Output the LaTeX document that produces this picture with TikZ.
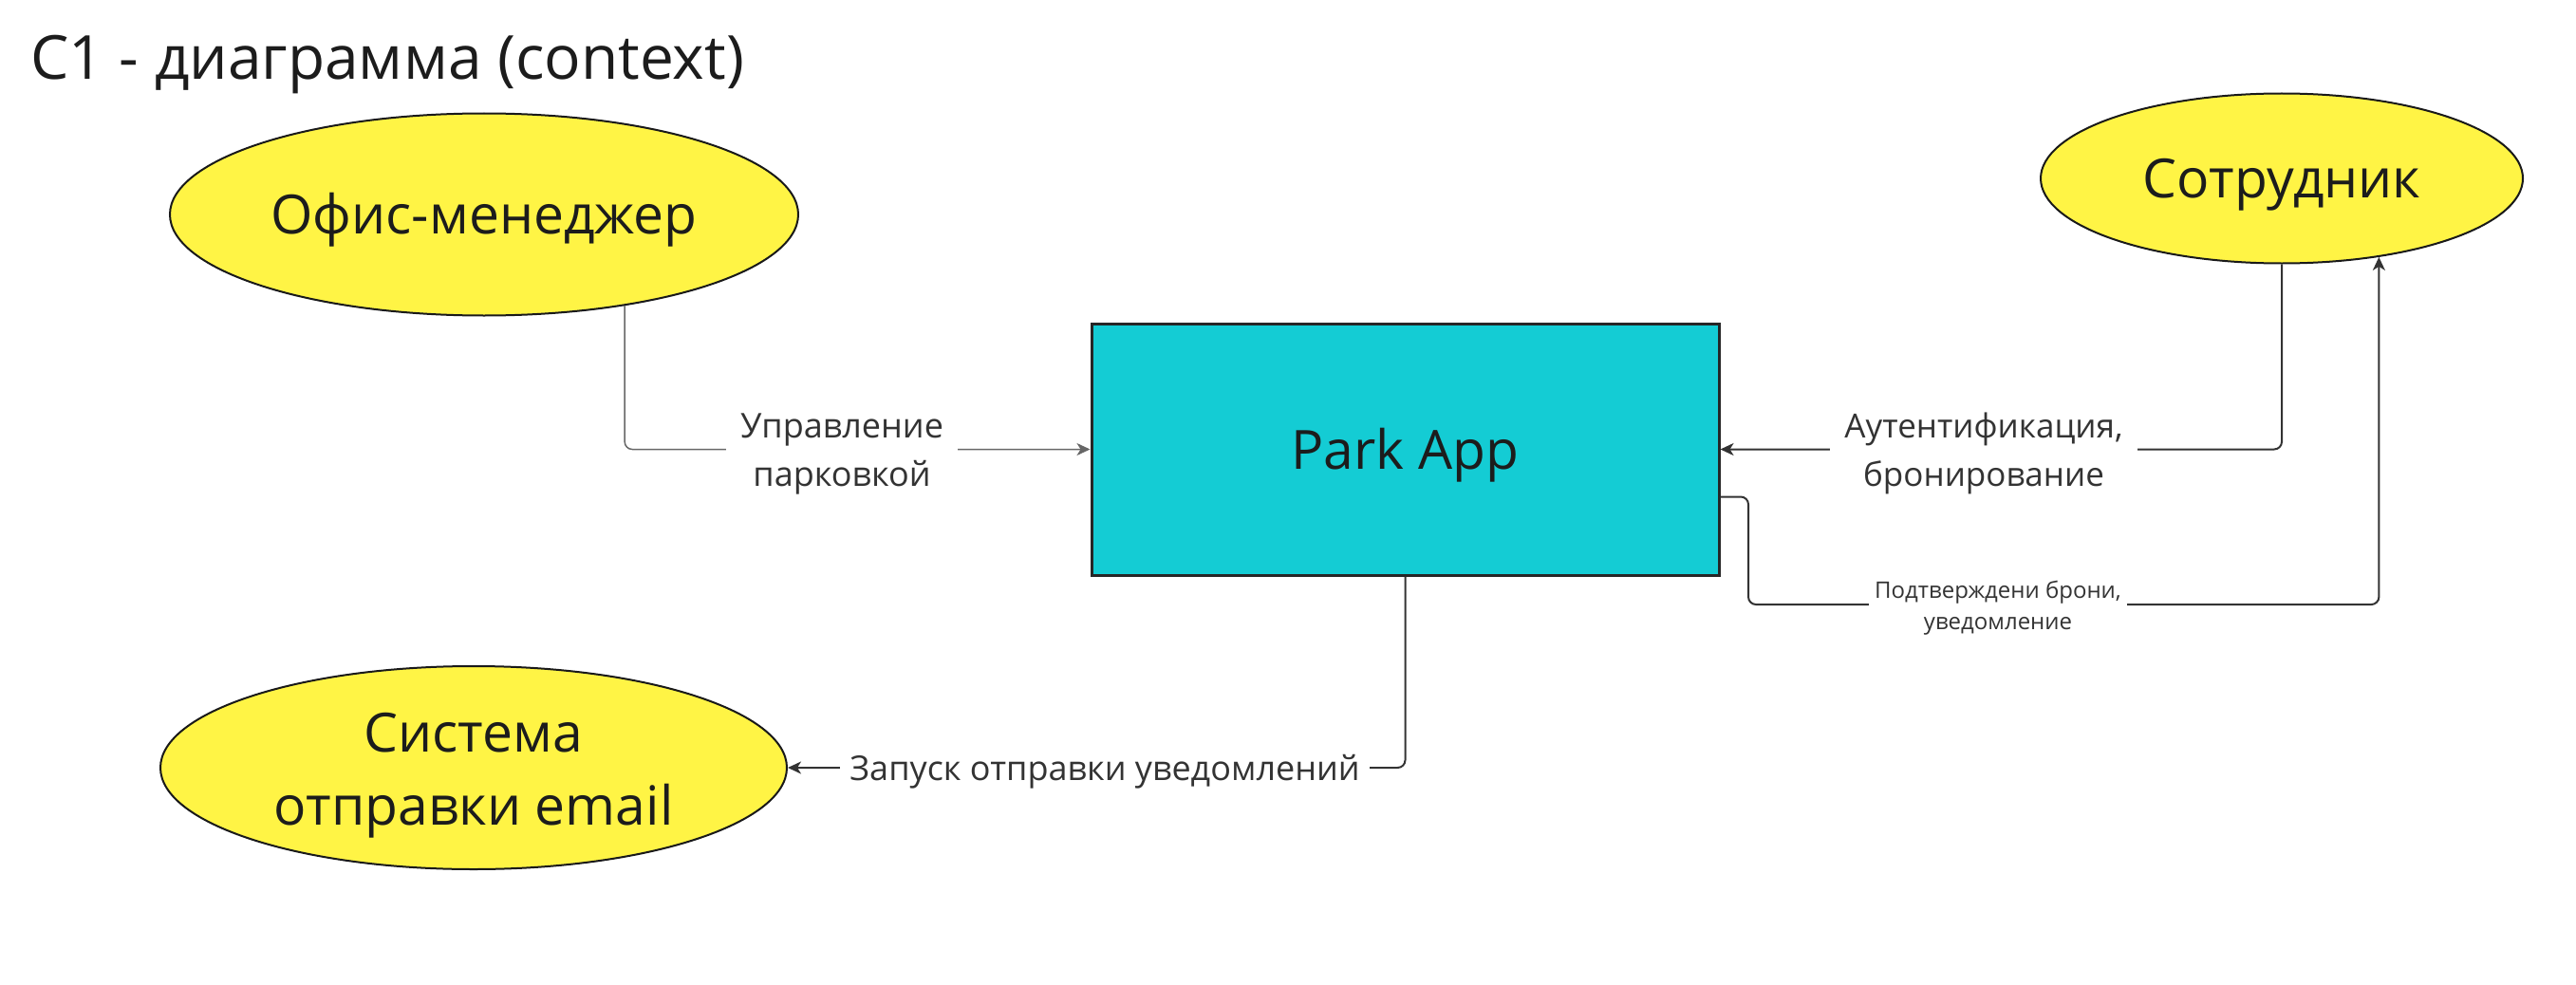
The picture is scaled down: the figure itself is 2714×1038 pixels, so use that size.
\documentclass[tikz,border=0pt]{standalone}
\usepackage{fontspec}
\setmainfont{Open Sans}
\usetikzlibrary{arrows.meta,shapes.geometric}

\begin{document}
\begin{tikzpicture}[x=1pt, y=-1pt,
    actor/.style={ellipse, draw=black!90, line width=2pt, fill=c_yellow, inner sep=0pt, font=\fontsize{57}{77}\selectfont, text=c_text, align=center, text height=41pt, text depth=0pt},
    system/.style={rectangle, draw=black!85, line width=3pt, fill=c_cyan, inner sep=0pt, minimum width=661pt, minimum height=265pt, font=\fontsize{57}{77}\selectfont, text=c_text, text height=41pt, text depth=0pt},
    link/.style={line width=2pt, draw=c_line, rounded corners=8pt, -{Stealth[length=14pt,width=13pt,inset=4pt]}},
    lbl/.style={fill=white, text=c_line, font=\fontsize{36}{51}\selectfont, align=center, inner xsep=15pt, inner ysep=0pt, text height=78pt, text depth=0pt},
    lblsmall/.style={lbl, font=\fontsize{24}{33}\selectfont, inner xsep=6pt, text height=52pt}
]

    % Цвета
    \definecolor{c_yellow}{RGB}{255, 244, 69}
    \definecolor{c_cyan}{RGB}{20, 204, 212}
    \definecolor{c_text}{RGB}{28, 28, 28}
    \definecolor{c_line}{RGB}{51, 51, 51}

    \useasboundingbox (0,0) rectangle (2714,1038);

    % Заголовок
    \node[anchor=base west, inner sep=0pt, font=\fontsize{64}{76}\selectfont, text=c_text] (title) at (32, 84) {C1 - диаграмма (context)};

    % Участники и система
    \node[actor, minimum width=662pt, minimum height=213pt] (office) at (510, 226) {Офис-менеджер};
    \node[actor, minimum width=508pt, minimum height=179pt] (emp) at (2404, 188) {Сотрудник};
    \node[actor, minimum width=660pt, minimum height=214pt, text height=120pt] (email) at (499, 809) {Система\\отправки email};
    \node[system] (app) at (1480.5, 473.5) {Park App};

    % --- Связи ---
    \coordinate (turn) at (1842, 637);

    \draw[link, line width=1.5pt, draw=black!60] (office.-33.5) |- (app.west);
    \draw[link] (emp.south) |- (app.east);
    \draw[link] ([yshift=-50pt]app.east) -| (turn) -| (emp.-39.8);
    \draw[link] (app.south) |- (email.east);

    % Подписи связей
    \node[lbl] (l_manage) at (887, 473) {Управление\\парковкой};
    \node[lbl, font=\fontsize{35}{51}\selectfont] (l_auth) at (2090, 473) {Аутентификация,\\бронирование};
    \node[lblsmall] (l_confirm) at (2105, 637) {Подтверждени брони,\\уведомление};
    \node[lbl, inner xsep=10pt, text height=26pt] (l_send) at (1164, 809) {Запуск отправки уведомлений};

\end{tikzpicture}
\end{document}
